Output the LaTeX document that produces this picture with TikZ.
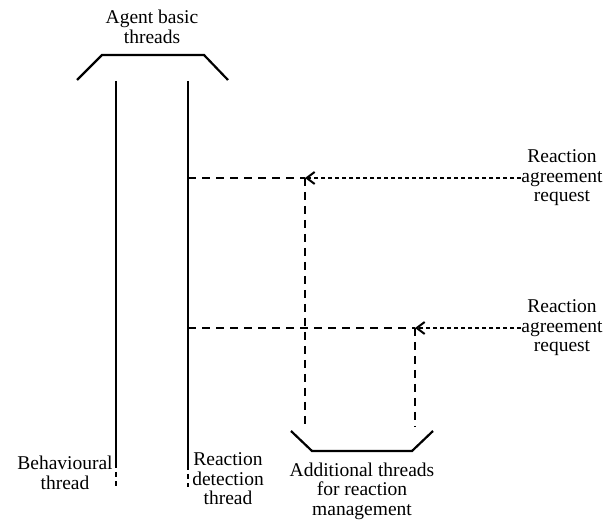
\documentclass[tikz,border=0pt]{standalone}
\usepackage{fontspec}
\setmainfont{Liberation Serif}
\usetikzlibrary{arrows.meta}
\begin{document}
\begin{tikzpicture}[x=1pt,y=-1pt,
  solidline/.style={line width=2.2pt},
  dashline/.style={line width=2pt, dash pattern=on 8pt off 6pt},
  tailline/.style={line width=2pt, dash pattern=on 5pt off 4pt},
  dotline/.style={line width=1.8pt, dash pattern=on 4pt off 3pt},
  reqarrow/.style={dotline, -{Straight Barb[length=8pt,width=12pt,line width=2pt]}},
  lbl/.style={align=center, inner sep=0pt, font=\fontsize{19.5}{19.5}\selectfont}
]
\useasboundingbox (0,0) rectangle (611,521);

% bracket grouping the basic threads
\coordinate (tb1) at (77,80);
\coordinate (tb2) at (102,55);
\coordinate (tb3) at (204,55);
\coordinate (tb4) at (228,80);
\draw[solidline] (tb1) -- (tb2) -- (tb3) -- (tb4);
\node[lbl] (agent) at (152,27) {Agent basic\\threads};

% behavioural thread
\coordinate (bt-top) at (116,81);
\coordinate (bt-end) at (116,463);
\coordinate (bt-tail) at (116,487);
\draw[solidline] (bt-top) -- (bt-end);
\draw[tailline] (bt-end) -- (bt-tail);
\node[lbl] (btlabel) at (65,473) {Behavioural\\thread};

% reaction detection thread
\coordinate (rd-top) at (188,81);
\coordinate (rd-end) at (188,465);
\coordinate (rd-tail) at (188,487);
\draw[solidline] (rd-top) -- (rd-end);
\draw[tailline] (rd-end) -- (rd-tail);
\node[lbl] (rdlabel) at (228,479) {Reaction\\detection\\thread};

% first additional thread
\coordinate (rd-h1) at (188,178);
\coordinate (j1) at (305,178);
\coordinate (j1-end) at (305,427);
\draw[dashline] (rd-h1) -- (j1);
\draw[dashline] (j1) -- (j1-end);
\node[lbl] (req1) at (562,178) {Reaction\\agreement\\request};
\draw[reqarrow] (req1.west |- j1) -- (j1);

% second additional thread
\coordinate (rd-h2) at (188,328);
\coordinate (j2) at (415,328);
\coordinate (j2-end) at (415,427);
\draw[dashline] (rd-h2) -- (j2);
\draw[dashline] (j2) -- (j2-end);
\node[lbl] (req2) at (562,328) {Reaction\\agreement\\request};
\draw[reqarrow] (req2.west |- j2) -- (j2);

% bracket grouping the additional threads
\coordinate (bb1) at (291,431);
\coordinate (bb2) at (312,451);
\coordinate (bb3) at (412,451);
\coordinate (bb4) at (433,431);
\draw[solidline] (bb1) -- (bb2) -- (bb3) -- (bb4);
\node[lbl] (addlabel) at (362,491) {Additional threads\\for reaction\\management};
\end{tikzpicture}
\end{document}
